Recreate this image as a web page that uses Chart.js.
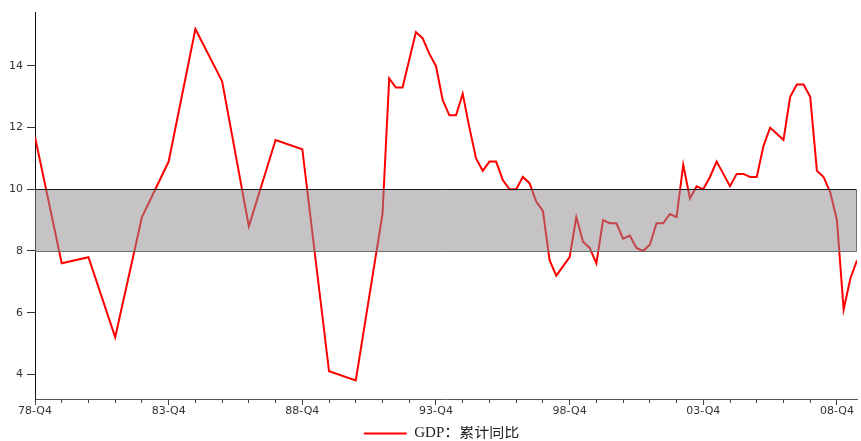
<!DOCTYPE html>
<html>
<head>
<meta charset="utf-8">
<title>GDP 累计同比</title>
<script src="https://cdn.jsdelivr.net/npm/chart.js@4/dist/chart.umd.min.js"></script>
<style>
    html, body { margin: 0; padding: 0; background: #fff; }
    #wrap { width: 861px; height: 441px; position: relative; }
</style>
</head>
<body>
<div id="wrap"><canvas id="gdpChart"></canvas></div>
<script>
// Annual figures before quarterly reporting began (value at each year's Q4)
const annualYears = [1978, 1979, 1980, 1981, 1982, 1983, 1984, 1985, 1986, 1987, 1988, 1989, 1990, 1991];
const annualGdp = [11.7, 7.6, 7.8, 5.2, 9.1, 10.9, 15.2, 13.5, 8.8, 11.6, 11.3, 4.1, 3.8, 9.2];

// Quarterly cumulative YoY, 1992-Q1 to 2009-Q3
const quarterlyStartYear = 1992;
const quarterlyGdp = [
    13.6, 13.3, 13.3, 14.2,   // 1992
    15.1, 14.9, 14.4, 14.0,   // 1993
    12.9, 12.4, 12.4, 13.1,   // 1994
    12.0, 11.0, 10.6, 10.9,   // 1995
    10.9, 10.3, 10.0, 10.0,   // 1996
    10.4, 10.2, 9.6, 9.3,     // 1997
    7.7, 7.2, 7.5, 7.8,       // 1998
    9.1, 8.3, 8.1, 7.6,       // 1999
    9.0, 8.9, 8.9, 8.4,       // 2000
    8.5, 8.1, 8.0, 8.2,       // 2001
    8.9, 8.9, 9.2, 9.1,       // 2002
    10.8, 9.7, 10.1, 10.0,    // 2003
    10.4, 10.9, 10.5, 10.1,   // 2004
    10.5, 10.5, 10.4, 10.4,   // 2005
    11.4, 12.0, 11.8, 11.6,   // 2006
    13.0, 13.4, 13.4, 13.0,   // 2007
    10.6, 10.4, 9.9, 9.0,     // 2008
    6.1, 7.1, 7.7             // 2009
];

const xTickLabels = ['78-Q4', '83-Q4', '88-Q4', '93-Q4', '98-Q4', '03-Q4', '08-Q4'];
const yTicks = [4, 6, 8, 10, 12, 14];
const bandLow = 8;
const bandHigh = 10;
const seriesName = 'GDP：累计同比';

document.addEventListener('DOMContentLoaded', function() {
    drawGdpChart();
});

// quarter index counted from 78-Q4
function quarterIndex(year, q) {
    return (year - 1978) * 4 + (q - 4);
}

function buildPoints() {
    const points = [];
    annualYears.forEach((year, i) => {
        points.push({ x: quarterIndex(year, 4), y: annualGdp[i] });
    });
    quarterlyGdp.forEach((value, i) => {
        const year = quarterlyStartYear + Math.floor(i / 4);
        const q = (i % 4) + 1;
        points.push({ x: quarterIndex(year, q), y: value });
    });
    return points;
}

// grey 8-10 band, painted over the line like the original
const bandPlugin = {
    id: 'targetBand',
    afterDatasetsDraw(chart) {
        const { ctx, chartArea, scales } = chart;
        const top = Math.round(scales.y.getPixelForValue(bandHigh)) + 0.5;
        const bottom = Math.round(scales.y.getPixelForValue(bandLow)) + 0.5;
        const left = chartArea.left;
        const right = Math.round(chartArea.right) - 0.5;

        ctx.save();
        ctx.fillStyle = 'rgba(141, 137, 143, 0.51)';
        ctx.fillRect(left, top, right - left, bottom - top);

        ctx.lineWidth = 1;
        ctx.strokeStyle = '#1a1a1a';
        ctx.beginPath();
        ctx.moveTo(left, top);
        ctx.lineTo(right, top);
        ctx.stroke();

        ctx.strokeStyle = '#6e6e6e';
        ctx.beginPath();
        ctx.moveTo(left, bottom);
        ctx.lineTo(right, bottom);
        ctx.lineTo(right, top);
        ctx.stroke();
        ctx.restore();
    }
};

// move the legend down and a little to the right, as in the source picture
const legendShift = {
    id: 'legendShift',
    afterLayout(chart) {
        if (chart.legend) {
            chart.legend.left += 13;
            chart.legend.right += 13;
            chart.legend.top += 10;
            chart.legend.bottom += 10;
        }
    }
};

function drawGdpChart() {
    const ctx = document.getElementById('gdpChart').getContext('2d');
    const lastIndex = quarterIndex(quarterlyStartYear + Math.floor((quarterlyGdp.length - 1) / 4),
        ((quarterlyGdp.length - 1) % 4) + 1);

    new Chart(ctx, {
        type: 'line',
        data: {
            datasets: [{
                label: seriesName,
                data: buildPoints(),
                borderColor: '#ff0000',
                backgroundColor: '#ff0000',
                borderWidth: 2,
                pointRadius: 0,
                tension: 0,
                fill: false
            }]
        },
        options: {
            responsive: true,
            maintainAspectRatio: false,
            animation: false,
            layout: {
                padding: { top: 12, right: 4, left: 0, bottom: 0 }
            },
            plugins: {
                tooltip: { enabled: false },
                legend: {
                    position: 'bottom',
                    labels: {
                        usePointStyle: true,
                        pointStyle: 'line',
                        pointStyleWidth: 43,
                        padding: 0,
                        color: '#222',
                        font: { family: "'Liberation Serif', 'Noto Sans CJK SC', serif", size: 15 }
                    }
                }
            },
            scales: {
                x: {
                    type: 'linear',
                    min: 0,
                    max: lastIndex,
                    afterFit: function(scale) { scale.height = 17; },
                    border: { color: '#555', width: 1 },
                    grid: {
                        drawOnChartArea: false,
                        tickLength: 6,
                        tickColor: '#444',
                        tickBorderDash: function(c) {
                            return c.tick && c.tick.value % 20 === 0 ? [] : [3, 40];
                        }
                    },
                    ticks: {
                        stepSize: 4,
                        includeBounds: false,
                        autoSkip: false,
                        maxRotation: 0,
                        padding: 0,
                        color: '#333',
                        font: { family: "'DejaVu Sans', sans-serif", size: 11 },
                        callback: function(value) {
                            return value % 20 === 0 ? xTickLabels[value / 20] : '';
                        }
                    }
                },
                y: {
                    min: 3.2,
                    max: 15.75,
                    afterFit: function(scale) { scale.width = 35; },
                    border: { color: '#111', width: 1 },
                    grid: {
                        drawOnChartArea: false,
                        tickLength: 8,
                        tickColor: '#333'
                    },
                    ticks: {
                        stepSize: 2,
                        includeBounds: false,
                        padding: 4,
                        color: '#333',
                        font: { family: "'DejaVu Sans', sans-serif", size: 11 },
                        callback: function(value) {
                            return yTicks.includes(value) ? String(value) : '';
                        }
                    }
                }
            }
        },
        plugins: [bandPlugin, legendShift]
    });
}
</script>
</body>
</html>
